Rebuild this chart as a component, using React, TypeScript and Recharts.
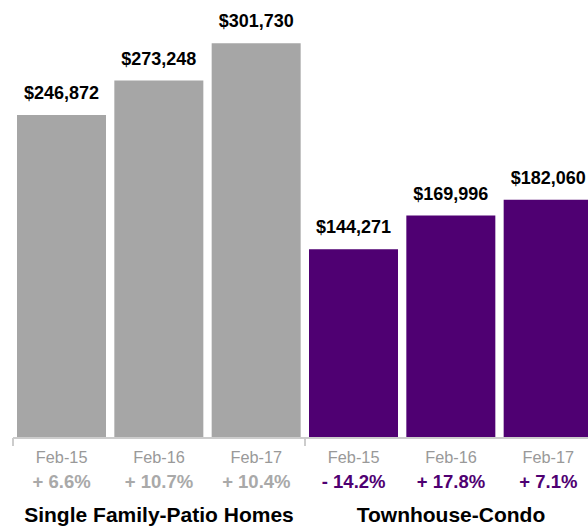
import { BarChart, Bar, XAxis, YAxis, Cell, LabelList } from "recharts";

const periods = ["Feb-15", "Feb-16", "Feb-17", "Feb-15", "Feb-16", "Feb-17"];
const medianPrices = [246872, 273248, 301730, 144271, 169996, 182060];
const yearChanges = [6.6, 10.7, 10.4, -14.2, 17.8, 7.1];
const groupNames = ["Single Family-Patio Homes", "Townhouse-Condo"];
const groupOf = [0, 0, 0, 1, 1, 1];

const groupColors = ["#a6a6a6", "#4f0072"];
const changeColors = ["#a9a9a9", "#4f0072"];
const font = "'Liberation Sans', Arial, Helvetica, sans-serif";

const data = periods.map((p, i) => ({
  id: i,
  period: p,
  price: medianPrices[i],
  change: yearChanges[i],
  group: groupOf[i],
}));

const money = (v: number) => "$" + v.toLocaleString("en-US");
const pct = (v: number) => (v < 0 ? "- " : "+ ") + Math.abs(v).toFixed(1) + "%";

function Tick(props: any) {
  const { x, y, payload, index } = props;
  const d = data[index];
  const half = payload.offset || 0;
  const first = index === 0 || d.group !== data[index - 1].group;
  const middle = index === 1 || index === 4;
  return (
    <g fontFamily={font}>
      {first && (
        <line x1={x - half} x2={x - half} y1={y} y2={y + 8} stroke="#cccccc" strokeWidth={2} />
      )}
      <text x={x} y={y + 25} textAnchor="middle" fontSize={16.3} fill="#999999">
        {d.period}
      </text>
      <text x={x} y={y + 50} textAnchor="middle" fontSize={18.5} fontWeight="bold" fill={changeColors[d.group]}>
        {pct(d.change)}
      </text>
      {middle && (
        <text x={x} y={y + 84} textAnchor="middle" fontSize={21} fontWeight="bold" fill="#000000">
          {groupNames[d.group]}
        </text>
      )}
    </g>
  );
}

export default function App() {
  return (
    <div style={{ position: "absolute", left: 0, top: 0, width: 588, height: 527, overflow: "hidden", background: "#fff" }}>
      <BarChart
        width={600}
        height={527}
        data={data}
        margin={{ top: 20, right: 3, bottom: 0, left: 13 }}
        barCategoryGap={4}
      >
        <XAxis
          dataKey="id"
          type="category"
          height={89}
          tickSize={0}
          tickMargin={0}
          axisLine={{ stroke: "#cccccc", strokeWidth: 2 }}
          tickLine={false}
          tick={<Tick />}
          interval={0}
        />
        <YAxis hide domain={[0, 319500]} />
        <Bar dataKey="price" isAnimationActive={false}>
          {data.map((d) => (
            <Cell key={d.id} fill={groupColors[d.group]} />
          ))}
          <LabelList
            dataKey="price"
            position="top"
            offset={16}
            formatter={(v: any) => money(Number(v))}
            style={{ fontFamily: font, fontSize: 18, fontWeight: "bold", fill: "#000000" }}
          />
        </Bar>
      </BarChart>
    </div>
  );
}
